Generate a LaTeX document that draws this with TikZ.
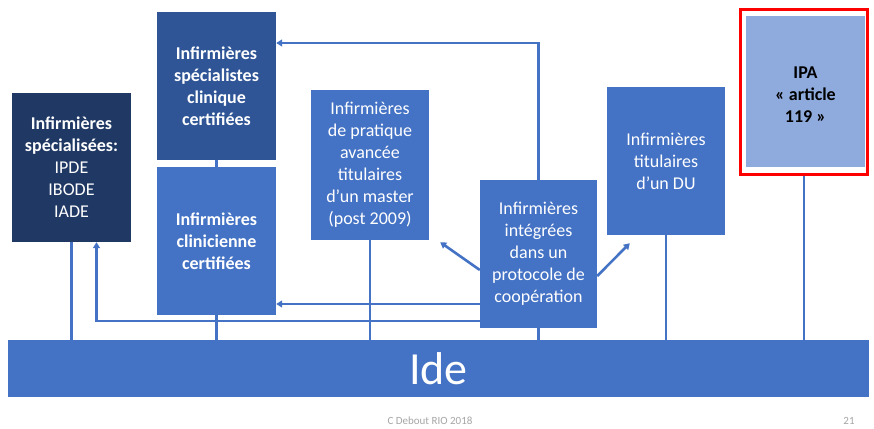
\documentclass[tikz,border=0pt]{standalone}
\usepackage{fontspec}
\setmainfont{Carlito}
\usetikzlibrary{arrows.meta}
\definecolor{navy}{HTML}{203864}
\definecolor{blueB}{HTML}{2F5597}
\definecolor{blueM}{HTML}{4472C4}
\definecolor{blueL}{HTML}{8FAADC}
\definecolor{footgray}{HTML}{A6A6A6}
\begin{document}
\begin{tikzpicture}[x=1pt,y=-1pt,
  box/.style={rectangle, inner sep=0pt, minimum width=119pt, minimum height=148pt,
    align=center, text=white, fill=blueM,
    font=\fontsize{18}{22}\selectfont},
  conn/.style={draw=blueM, line width=2.6pt},
  arr/.style={conn, -{Triangle[length=6pt,width=7pt]}}]
\useasboundingbox (0,0) rectangle (874,428);
\fill[white] (0,0) rectangle (874,428);

% boxes
\node[box, fill=navy, minimum height=149pt] (spec) at (71.5,167.5)
  {\textbf{Infirmières}\\\textbf{spécialisées:}\\IPDE\\IBODE\\IADE};
\node[box, fill=blueB] (cs) at (216.5,86)
  {\textbf{Infirmières}\\\textbf{spécialistes}\\\textbf{clinique}\\\textbf{certifiées}};
\node[box] (cc) at (216.5,241)
  {\textbf{Infirmières}\\\textbf{clinicienne}\\\textbf{certifiées}};
\node[box, minimum width=118pt, minimum height=150pt] (pa) at (370,165)
  {Infirmières\\de pratique\\avancée\\titulaires\\d’un master\\(post 2009)};
\node[box, minimum width=117pt] (pc) at (538.5,254)
  {Infirmières\\intégrées\\dans un\\protocole de\\coopération};
\node[box, minimum width=118pt] (du) at (666,161)
  {Infirmières\\titulaires\\d’un DU};
\node[draw=red, line width=3pt, fill=white, inner sep=0pt,
  minimum width=127pt, minimum height=165pt] (ipaframe) at (804,92) {};
\node[box, fill=blueL, text=black, minimum height=151pt] (ipa) at (805.5,91.5) {};
\node[align=center, font=\fontsize{18}{22}\selectfont\bfseries, inner sep=0pt]
  (ipatext) at (805.5,95) {IPA\\« article\\119 »};
\node[fill=blueM, inner sep=0pt, minimum width=861pt, minimum height=57pt,
  text=white, font=\fontsize{46}{50}\selectfont] (ide) at (438.5,368.5) {Ide};

% footer
\node[font=\fontsize{11}{13}\selectfont, text=footgray] (foot) at (430,421) {C Debout RIO 2018};
\node[font=\fontsize{11}{13}\selectfont, text=footgray] (pg) at (849,421) {21};

% vertical links to Ide
\draw[conn] (spec.south) -- (spec.south |- ide.north);
\draw[conn] (cs.south) -- (cc.north);
\draw[conn] (cc.south) -- (cc.south |- ide.north);
\draw[conn] (pa.south) -- (pa.south |- ide.north);
\draw[conn] (pc.south) -- (pc.south |- ide.north);
\draw[conn] (du.south) -- (du.south |- ide.north);
\draw[conn] (ipaframe.south) -- (ipaframe.south |- ide.north);

% arrows from the protocol box
\coordinate (topturn) at (538.5,43);
\draw[arr] (pc.north) -- (topturn) -- (topturn -| cs.east);
\coordinate (pcL1) at ([yshift=-50pt]pc.west);
\draw[arr] (pcL1) -- (pcL1 -| cc.east);
\coordinate (pcL2) at ([yshift=-67pt]pc.west);
\coordinate (specIn) at ([xshift=25pt]spec.south);
\draw[arr] (pcL2) -| (specIn);
\coordinate (pcD1) at ([yshift=-16pt]pc.west);
\coordinate (paIn) at ([xshift=11pt,yshift=-2pt]pa.south east);
\draw[arr] (pcD1) -- (paIn);
\coordinate (pcD2) at ([yshift=-22pt]pc.east);
\coordinate (duIn) at ([xshift=23pt,yshift=-8pt]du.south west);
\draw[arr] (pcD2) -- (duIn);
\end{tikzpicture}
\end{document}
